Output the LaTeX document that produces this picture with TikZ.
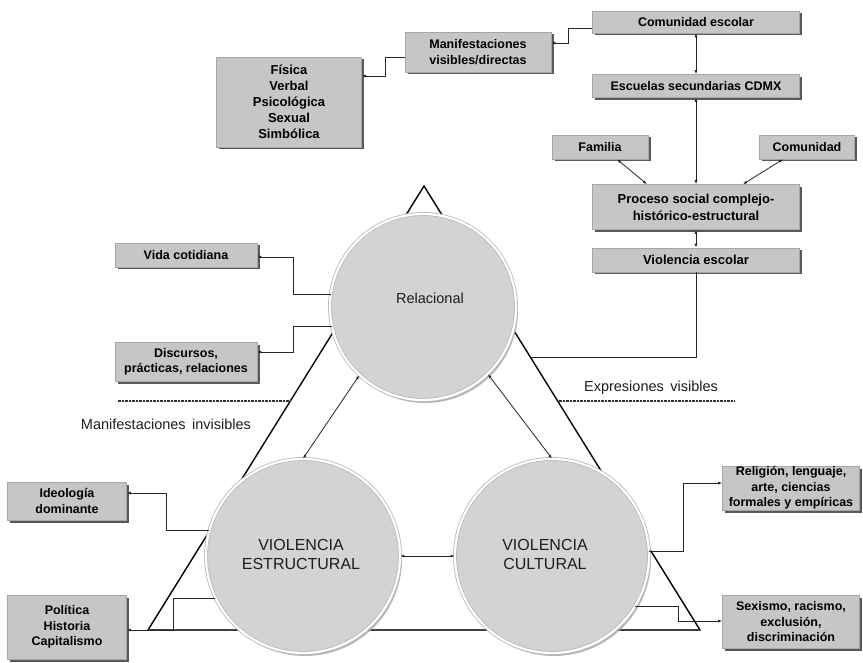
\documentclass[tikz,border=0pt]{standalone}
\usepackage{fontspec}
\setmainfont{Liberation Sans}
\usetikzlibrary{arrows.meta,shadows,calc}
\definecolor{boxgray}{HTML}{C6C6C6}
\definecolor{circgray}{HTML}{D3D3D3}
\definecolor{txtgray}{HTML}{1E1E1E}
\tikzset{
  gbox/.style={draw=gray!70, fill=boxgray, line width=0.6pt,
    font=\bfseries\fontsize{12.5}{15.5}\selectfont, align=center, inner sep=0pt,
    drop shadow={shadow xshift=2.5pt, shadow yshift=-2.5pt, fill=black!65, opacity=1}},
  circ/.style={circle, fill=circgray, draw=gray!55, line width=0.8pt,
    double=white, double distance=2.2pt, inner sep=0pt,
    drop shadow={shadow xshift=2pt, shadow yshift=-3pt, fill=black!35, opacity=0.8}},
  conn/.style={draw=black!85, line width=0.8pt},
  arr/.style={conn, -{Latex[length=4pt,width=3pt]}},
  darr/.style={conn, {Latex[length=4pt,width=3pt]}-{Latex[length=4pt,width=3pt]}},
  ctext/.style={font=\fontsize{14.5}{18}\selectfont, align=center, text=txtgray},
  plain/.style={font=\fontsize{14.5}{17}\selectfont, text=txtgray},
  tri/.style={draw=black, line width=1.4pt, line join=miter},
  dashln/.style={draw=black!80, line width=1.2pt, dash pattern=on 2.5pt off 1pt}
}
\begin{document}
\begin{tikzpicture}[x=1pt,y=-1pt]
\useasboundingbox[fill=white] (0,0) rectangle (863,663);

% triangle
\coordinate (tl) at (148,630);
\coordinate (tt) at (424,186);
\coordinate (tr) at (700,630);
\draw[tri] (tl) -- (tt) -- (tr) -- cycle;
\draw[line width=2.4pt, black!75] (tl) -- (tr);

% dashed separators
\coordinate (dl1) at (118,401);
\coordinate (dl2) at (290,401);
\coordinate (dr1) at (559,401);
\coordinate (dr2) at (735,401);
\draw[dashln] (dl1) -- (dl2);
\draw[dashln] (dr1) -- (dr2);
\node[plain] (expr) at (651,388) {Expresiones\, visibles};
\node[plain] (minv) at (166,424) {Manifestaciones\, invisibles};

% boxes
\node[gbox, minimum width=207pt, minimum height=22pt] (ce) at (696,22) {Comunidad escolar};
\node[gbox, minimum width=207pt, minimum height=23pt] (esc) at (696,86) {Escuelas secundarias CDMX};
\node[gbox, minimum width=146pt, minimum height=40pt] (manif) at (478,52) {Manifestaciones\\visibles/directas};
\node[gbox, minimum width=145pt, minimum height=90pt, font=\bfseries\fontsize{13}{16}\selectfont] (fis) at (289,102) {Física\\Verbal\\Psicológica\\Sexual\\Simbólica};
\node[gbox, minimum width=96pt, minimum height=24pt] (fam) at (600,147) {Familia};
\node[gbox, minimum width=95pt, minimum height=24pt] (com) at (807,147) {Comunidad};
\node[gbox, minimum width=207pt, minimum height=45pt, font=\bfseries\fontsize{13}{17}\selectfont] (proc) at (696,207) {Proceso social complejo-\\histórico-estructural};
\node[gbox, minimum width=207pt, minimum height=24pt, font=\bfseries\fontsize{13}{16}\selectfont] (vesc) at (696,260) {Violencia escolar};
\node[gbox, minimum width=142pt, minimum height=24pt] (vida) at (186,255) {Vida cotidiana};
\node[gbox, minimum width=142pt, minimum height=39pt] (disc) at (186,362) {Discursos,\\prácticas, relaciones};
\node[gbox, minimum width=119pt, minimum height=38pt] (ideo) at (67,501) {Ideología\\dominante};
\node[gbox, minimum width=119pt, minimum height=64pt] (pol) at (67,627) {Política\\Historia\\Capitalismo};
\node[gbox, minimum width=137pt, minimum height=44pt] (relig) at (791,488) {Religión, lenguaje,\\arte, ciencias\\formales y empíricas};
\node[gbox, minimum width=137pt, minimum height=53pt] (sex) at (791,622) {Sexismo, racismo,\\exclusión,\\discriminación};

% circles
\node[circ, minimum size=186pt] (rel) at (423,307) {};
\node[circ, minimum size=194pt] (est) at (303,556) {};
\node[circ, minimum size=194pt] (cult) at (552,556) {};
\node[ctext] (relt) at (430,298) {Relacional};
\node[ctext, font=\fontsize{16}{19}\selectfont] (estt) at (301,554) {VIOLENCIA\\ESTRUCTURAL};
\node[ctext, font=\fontsize{16}{19}\selectfont] (cultt) at (545,554) {VIOLENCIA\\CULTURAL};

% connectors top
\draw[arr] ([yshift=-6pt]ce.west) -| (568,43) -- (manif.east |- 0,43);
\draw[arr] (manif.west |- 0,57) -| (385,76) -- (fis.east |- 0,76);
\draw[darr] (ce.south) -- (esc.north);
\draw[darr] (esc.south) -- (proc.north);
\draw[darr] ([xshift=17pt]fam.south) -- ([xshift=-49pt]proc.north);
\draw[darr] ([xshift=-24pt]com.south) -- ([xshift=47pt]proc.north);
\draw[darr] (proc.south) -- (vesc.north);
\coordinate (vend) at (531,357);
\draw[conn] (vesc.south) |- (vend);

% relacional
\draw[arr] (rel.172) -| (293,257) -- (vida.east |- 0,257);
\draw[arr] (rel.192) -| (293,352) -- (disc.east |- 0,352);
\draw[darr] (rel.227) -- (est.north);
\draw[darr] (rel.314) -- (cult.north);
\draw[darr] (est.east) -- (cult.west);

% estructural
\draw[arr] (est.165) -| (166,493) -- (ideo.east |- 0,493);
\draw[arr] (est.206) -| (173,630) -- (pol.east |- 0,630);

% cultural
\draw[arr] (cult.3) -| (683,483) -- (relig.west |- 0,483);
\draw[arr] (cult.-31) -| (678,621) -- (sex.west |- 0,621);
\end{tikzpicture}
\end{document}
